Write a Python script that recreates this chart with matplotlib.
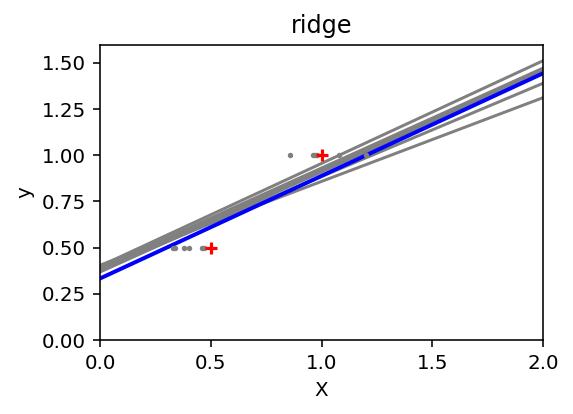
import matplotlib
matplotlib.use("Agg")
import matplotlib.pyplot as plt
import numpy as np

# Training data (red crosses)
X_train = [0.5, 1.0]
y_train = [0.5, 1.0]

# Noisy X positions for the six gray refits (y stays at 0.5 and 1.0)
noisy_x_low = [0.33, 0.34, 0.38, 0.40, 0.46, 0.47]
noisy_x_high = [0.86, 0.96, 0.97, 0.98, 1.08, 1.20]

# Gray fitted lines: predicted y at x=0 and at x=2
X_test = [0.0, 2.0]
gray_y_at_0 = [0.400, 0.390, 0.378, 0.368, 0.380, 0.405]
gray_y_at_2 = [1.512, 1.472, 1.460, 1.452, 1.390, 1.312]

# Blue fit on the original training data
blue_y = [0.333, 1.444]

dpi = 143.25
fig = plt.figure(figsize=(573 / dpi, 414 / dpi), dpi=dpi)
ax = fig.add_axes([100 / 573, 1 - 340 / 414, 443 / 573, 295.5 / 414])

for i in range(len(gray_y_at_0)):
    ax.plot(X_test, [gray_y_at_0[i], gray_y_at_2[i]], color="gray")
    ax.scatter([noisy_x_low[i], noisy_x_high[i]], y_train, s=3, c="gray", marker="o", zorder=10)

ax.plot(X_test, blue_y, linewidth=2, color="blue")
ax.scatter(X_train, y_train, s=38, c="red", marker="+", linewidths=1.6, zorder=10)

ax.set_title("ridge")
ax.set_xlim(0, 2)
ax.set_ylim((0, 1.6))
ax.set_xlabel("X")
ax.set_ylabel("y")

fig.savefig("out.png", dpi=dpi)
